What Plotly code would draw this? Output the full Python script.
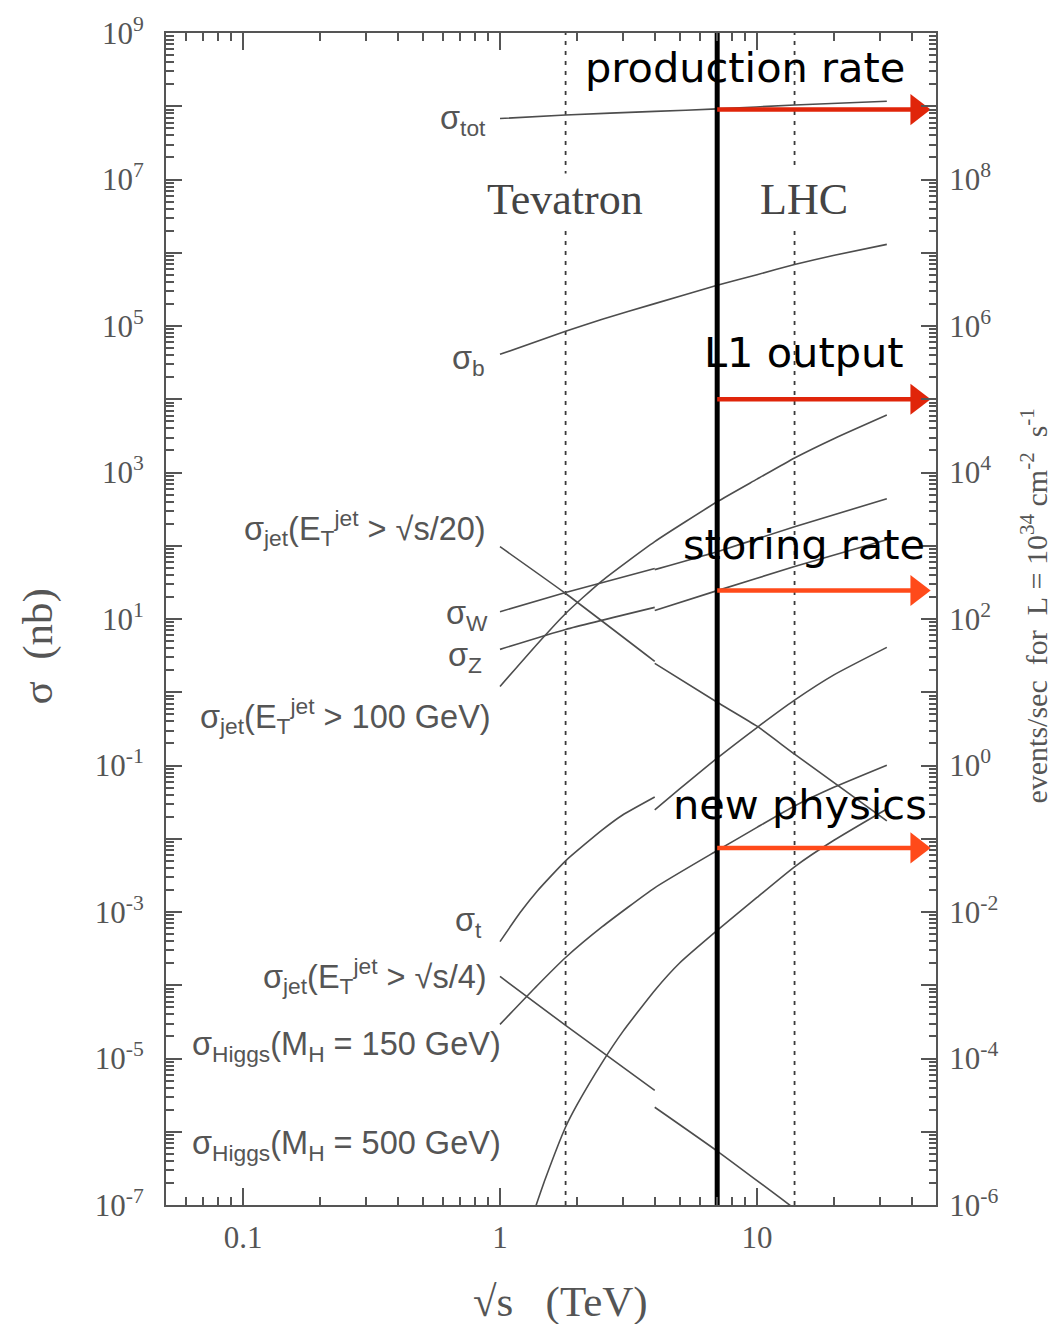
import math
import plotly.graph_objects as go

# ---------------- data (sigma in nb, sqrt(s) in TeV) ----------------
tot_x = [1, 1.8, 4, 7, 14, 32]
sigma_tot = [6.8e7, 7.6e7, 8.5e7, 9.2e7, 1.04e8, 1.17e8]

b_x = [1, 1.8, 2.5, 4, 7, 10, 14, 20, 32]
sigma_b = [4.1e4, 8.5e4, 1.24e5, 2.02e5, 3.6e5, 5.02e5, 6.9e5, 9.25e5, 1.3e6]

jet20_ppbar_x = [1, 1.8, 4]
jet20_ppbar = [97, 22.3, 2.64]
jet20_pp_x = [4, 7, 10, 14, 32]
jet20_pp = [2.48, 0.73, 0.344, 0.143, 0.0175]

W_ppbar_x = [1, 1.8, 4]
W_ppbar = [12.6, 23.0, 48.8]
W_pp_x = [4, 7, 14, 32]
W_pp = [47.2, 83, 182, 438]

Z_ppbar_x = [1, 1.8, 4]
Z_ppbar = [3.85, 7.2, 14.4]
Z_pp_x = [4, 7, 14, 32]
Z_pp = [13.1, 24.4, 51.9, 121]

jet100_x = [1, 1.4, 1.8, 2.5, 4, 7, 10, 14, 20, 32]
jet100 = [1.2, 4.6, 11.9, 33.5, 114, 398, 811, 1580, 2920, 6100]

top_ppbar_x = [1, 1.2, 1.4, 1.8, 2.5, 3, 4]
top_ppbar = [3.94e-4, 9.9e-4, 1.95e-3, 4.99e-3, 1.32e-2, 2.11e-2, 3.72e-2]
top_pp_x = [4, 5, 7, 10, 14, 20, 32]
top_pp = [0.0247, 0.0478, 0.126, 0.33, 0.78, 1.74, 4.1]

jet4_ppbar_x = [1, 1.8, 4]
jet4_ppbar = [1.32e-4, 2.83e-5, 3.68e-6]
jet4_pp_x = [4, 7, 14]
jet4_pp = [2.16e-6, 5.45e-7, 8.9e-8]

h150_x = [1, 1.4, 1.8, 2.5, 4, 7, 10, 14, 20, 32]
h150 = [2.92e-5, 1.0e-4, 2.39e-4, 6.3e-4, 2.14e-3, 6.9e-3, 1.43e-2, 2.8e-2, 5.08e-2, 0.101]

h500_x = [1.35, 1.5, 1.8, 2, 2.5, 3, 4, 5, 7, 10, 14, 20, 32]
h500 = [7.8e-8, 2.26e-7, 1.16e-6, 2.38e-6, 8.87e-6, 2.31e-5, 8.5e-5, 2.01e-4,
        5.6e-4, 1.58e-3, 4.14e-3, 9.6e-3, 2.55e-2]

tevatron_energy = 1.8
lhc_energy = 14
lhc_run_energy = 7
arrow_end = 42
arrow_levels = [9.0e7, 1.0e4, 24.5, 7.5e-3]
arrow_labels = ["production rate", "L1 output", "storing rate", "new physics"]
arrow_colors = ["#e0250a", "#e0250a", "#ff4a1a", "#ff4a1a"]

x_major = [0.1, 1, 10]
x_major_text = ["0.1", "1", "10"]
x_minor = [0.06, 0.07, 0.08, 0.09, 0.2, 0.3, 0.4, 0.5, 0.6, 0.7, 0.8, 0.9,
           2, 3, 4, 5, 6, 7, 8, 9, 20, 30, 40]

# left axis (nb): labelled decades and unlabelled decades
y_lab_dec = [-7, -5, -3, -1, 1, 3, 5, 7, 9]
y_unlab_dec = [-6, -4, -2, 0, 2, 4, 6, 8]
# right axis (events/sec): labelled decades and unlabelled decades
y2_lab_dec = [-6, -4, -2, 0, 2, 4, 6, 8]
y2_unlab_dec = [-5, -3, -1, 1, 3, 5, 7, 9, 10]

y_lab_vals = [10.0 ** k for k in y_lab_dec]
y_lab_text = ["10<sup>%d</sup>" % k for k in y_lab_dec]
y_unlab_vals = [10.0 ** k for k in y_unlab_dec]
y_minor = [m * 10.0 ** k for k in range(-7, 9) for m in range(2, 10)]

y2_lab_vals = [10.0 ** k for k in y2_lab_dec]
y2_lab_text = ["10<sup>%d</sup>" % k for k in y2_lab_dec]
y2_unlab_vals = [10.0 ** k for k in y2_unlab_dec]
y2_minor = [m * 10.0 ** k for k in range(-6, 10) for m in range(2, 10)]

# ---------------- figure ----------------
W_PX, H_PX = 1059, 1324
L, R, T, B = 166, 123, 30, 119
PW, PH = W_PX - L - R, H_PX - T - B


def px_x(p):
    return (p - L) / PW


def px_y(p):
    return (H_PX - B - p) / PH


fig = go.Figure()
curve_col = "#4d4d4d"


def add_curve(x, y):
    fig.add_trace(go.Scatter(x=x, y=y, mode="lines",
                             line=dict(color=curve_col, width=1.6, shape="spline", smoothing=0.5),
                             hoverinfo="skip", showlegend=False))


# dotted collider lines
for e in [tevatron_energy, lhc_energy]:
    fig.add_trace(go.Scatter(x=[e, e], y=[1e-7, 1e9], mode="lines",
                             line=dict(color="#3a3a3a", width=1.8, dash="4px,6px"),
                             hoverinfo="skip", showlegend=False))

add_curve(tot_x, sigma_tot)
add_curve(b_x, sigma_b)
add_curve(jet20_ppbar_x, jet20_ppbar)
add_curve(jet20_pp_x, jet20_pp)
add_curve(W_ppbar_x, W_ppbar)
add_curve(W_pp_x, W_pp)
add_curve(Z_ppbar_x, Z_ppbar)
add_curve(Z_pp_x, Z_pp)
add_curve(jet100_x, jet100)
add_curve(top_ppbar_x, top_ppbar)
add_curve(top_pp_x, top_pp)
add_curve(jet4_ppbar_x, jet4_ppbar)
add_curve(jet4_pp_x, jet4_pp)
add_curve(h150_x, h150)
add_curve(h500_x, h500)

# thick black line at LHC run energy
fig.add_trace(go.Scatter(x=[lhc_run_energy, lhc_run_energy], y=[1e-7, 1e9], mode="lines",
                         line=dict(color="black", width=5), hoverinfo="skip", showlegend=False))

# red arrows (shaft + head)
for lvl, col in zip(arrow_levels, arrow_colors):
    fig.add_trace(go.Scatter(x=[lhc_run_energy, arrow_end], y=[lvl, lvl], mode="lines",
                             line=dict(color=col, width=4.5), hoverinfo="skip", showlegend=False))
    fig.add_trace(go.Scatter(x=[arrow_end], y=[lvl], mode="markers",
                             marker=dict(symbol="triangle-right", size=27, color=col,
                                         line=dict(width=0)),
                             hoverinfo="skip", showlegend=False, cliponaxis=False))

# invisible traces to activate the extra tick axes
for ax in ["y2", "y3", "y4"]:
    fig.add_trace(go.Scatter(x=[1], y=[10], yaxis=ax, mode="markers",
                             marker=dict(opacity=0), hoverinfo="skip", showlegend=False))

tick_font = dict(family="Liberation Serif, Times New Roman, serif", size=31, color="#555555")
axis_col = "#555555"

fig.update_layout(
    width=W_PX, height=H_PX,
    margin=dict(l=L, r=R, t=T, b=B, pad=0),
    plot_bgcolor="white", paper_bgcolor="white",
    showlegend=False,
    xaxis=dict(type="log", range=[-1.2996, 1.6965],
               tickmode="array", tickvals=x_major, ticktext=x_major_text,
               ticks="inside", ticklen=17, tickwidth=1.5, tickcolor=axis_col,
               minor=dict(tickmode="array", tickvals=x_minor, ticks="inside",
                          ticklen=8, tickwidth=1.5, tickcolor=axis_col),
               showline=True, linecolor=axis_col, linewidth=2, mirror="ticks",
               showgrid=False, zeroline=False, tickfont=tick_font,
               ticklabelstandoff=4),
    yaxis=dict(type="log", range=[-7, 9],
               tickmode="array", tickvals=y_lab_vals, ticktext=y_lab_text,
               ticks="inside", ticklen=16, tickwidth=1.5, tickcolor=axis_col,
               minor=dict(tickmode="array", tickvals=y_minor, ticks="inside",
                          ticklen=8, tickwidth=1.5, tickcolor=axis_col),
               showline=True, linecolor=axis_col, linewidth=2,
               showgrid=False, zeroline=False, tickfont=tick_font,
               ticklabelstandoff=14),
    yaxis3=dict(type="log", range=[-7, 9], overlaying="y", side="left", anchor="x",
                tickmode="array", tickvals=y_unlab_vals, showticklabels=False,
                ticks="inside", ticklen=16, tickwidth=1.5, tickcolor=axis_col,
                showline=False, showgrid=False, zeroline=False),
    yaxis2=dict(type="log", range=[-6, 10], overlaying="y", side="right", anchor="x",
                tickmode="array", tickvals=y2_lab_vals, ticktext=y2_lab_text,
                ticks="inside", ticklen=15, tickwidth=1.5, tickcolor=axis_col,
                minor=dict(tickmode="array", tickvals=y2_minor, ticks="inside",
                           ticklen=7, tickwidth=1.5, tickcolor=axis_col),
                showline=True, linecolor=axis_col, linewidth=2,
                showgrid=False, zeroline=False, tickfont=tick_font,
                ticklabelstandoff=5),
    yaxis4=dict(type="log", range=[-6, 10], overlaying="y", side="right", anchor="x",
                tickmode="array", tickvals=y2_unlab_vals, showticklabels=False,
                ticks="inside", ticklen=15, tickwidth=1.5, tickcolor=axis_col,
                showline=False, showgrid=False, zeroline=False),
)

ann = []

# black texts
big_font = dict(family="DejaVu Sans, Verdana, sans-serif", size=41.5, color="black")
for txt, (xl, yc) in zip(arrow_labels, [(583, 65), (702, 350), (681, 543), (671, 803)]):
    ann.append(dict(x=px_x(xl), y=px_y(yc), xref="paper", yref="paper", text=txt,
                    showarrow=False, xanchor="left", yanchor="middle", font=big_font))

# collider names
serif_big = dict(family="Liberation Serif, Times New Roman, serif", size=44, color="#444444")
ann.append(dict(x=px_x(565), y=px_y(197), xref="paper", yref="paper", text="Tevatron",
                showarrow=False, xanchor="center", yanchor="middle", font=serif_big,
                bgcolor="white"))
ann.append(dict(x=px_x(804), y=px_y(197), xref="paper", yref="paper", text="LHC",
                showarrow=False, xanchor="center", yanchor="middle", font=serif_big,
                bgcolor="white", borderpad=4))

# curve labels
lab_font = dict(family="Liberation Sans, Arial, sans-serif", size=32.5, color="#555555")
labels = [
    ("σ<sub>tot</sub>", 488, 118),
    ("σ<sub>b</sub>", 487, 358),
    ("σ<sub>jet</sub>(E<sub>T</sub><sup>jet</sup> > √s/20)", 488, 526),
    ("σ<sub>W</sub>", 490, 614),
    ("σ<sub>Z</sub>", 484, 656),
    ("σ<sub>jet</sub>(E<sub>T</sub><sup>jet</sup> > 100 GeV)", 493, 715),
    ("σ<sub>t</sub>", 484, 922),
    ("σ<sub>jet</sub>(E<sub>T</sub><sup>jet</sup> > √s/4)", 489, 975),
    ("σ<sub>Higgs</sub>(M<sub>H</sub> = 150 GeV)", 503, 1046),
    ("σ<sub>Higgs</sub>(M<sub>H</sub> = 500 GeV)", 503, 1145),
]
for txt, xr, yc in labels:
    ann.append(dict(x=px_x(xr), y=px_y(yc), xref="paper", yref="paper", text=txt,
                    showarrow=False, xanchor="right", yanchor="middle", font=lab_font))

# axis titles
ann.append(dict(x=px_x(560), y=px_y(1302), xref="paper", yref="paper",
                text="√s\u00a0\u00a0\u00a0(TeV)", showarrow=False, xanchor="center", yanchor="middle",
                font=dict(family="Liberation Serif, Times New Roman, serif", size=43, color="#555555")))
ann.append(dict(x=px_x(38), y=px_y(645), xref="paper", yref="paper",
                text="σ\u00a0\u00a0(nb)", showarrow=False, xanchor="center", yanchor="middle",
                textangle=-90,
                font=dict(family="Liberation Serif, Times New Roman, serif", size=43, color="#555555")))
ann.append(dict(x=px_x(1034), y=px_y(605), xref="paper", yref="paper",
                text="events/sec\u00a0\u00a0for\u00a0\u00a0L\u00a0=\u00a010<sup>34</sup>\u00a0cm<sup>-2</sup>\u00a0\u00a0s<sup>-1</sup>",
                showarrow=False, xanchor="center", yanchor="middle", textangle=-90,
                font=dict(family="Liberation Serif, Times New Roman, serif", size=30, color="#555555")))

fig.update_layout(annotations=ann)
fig.write_html("out.html")
